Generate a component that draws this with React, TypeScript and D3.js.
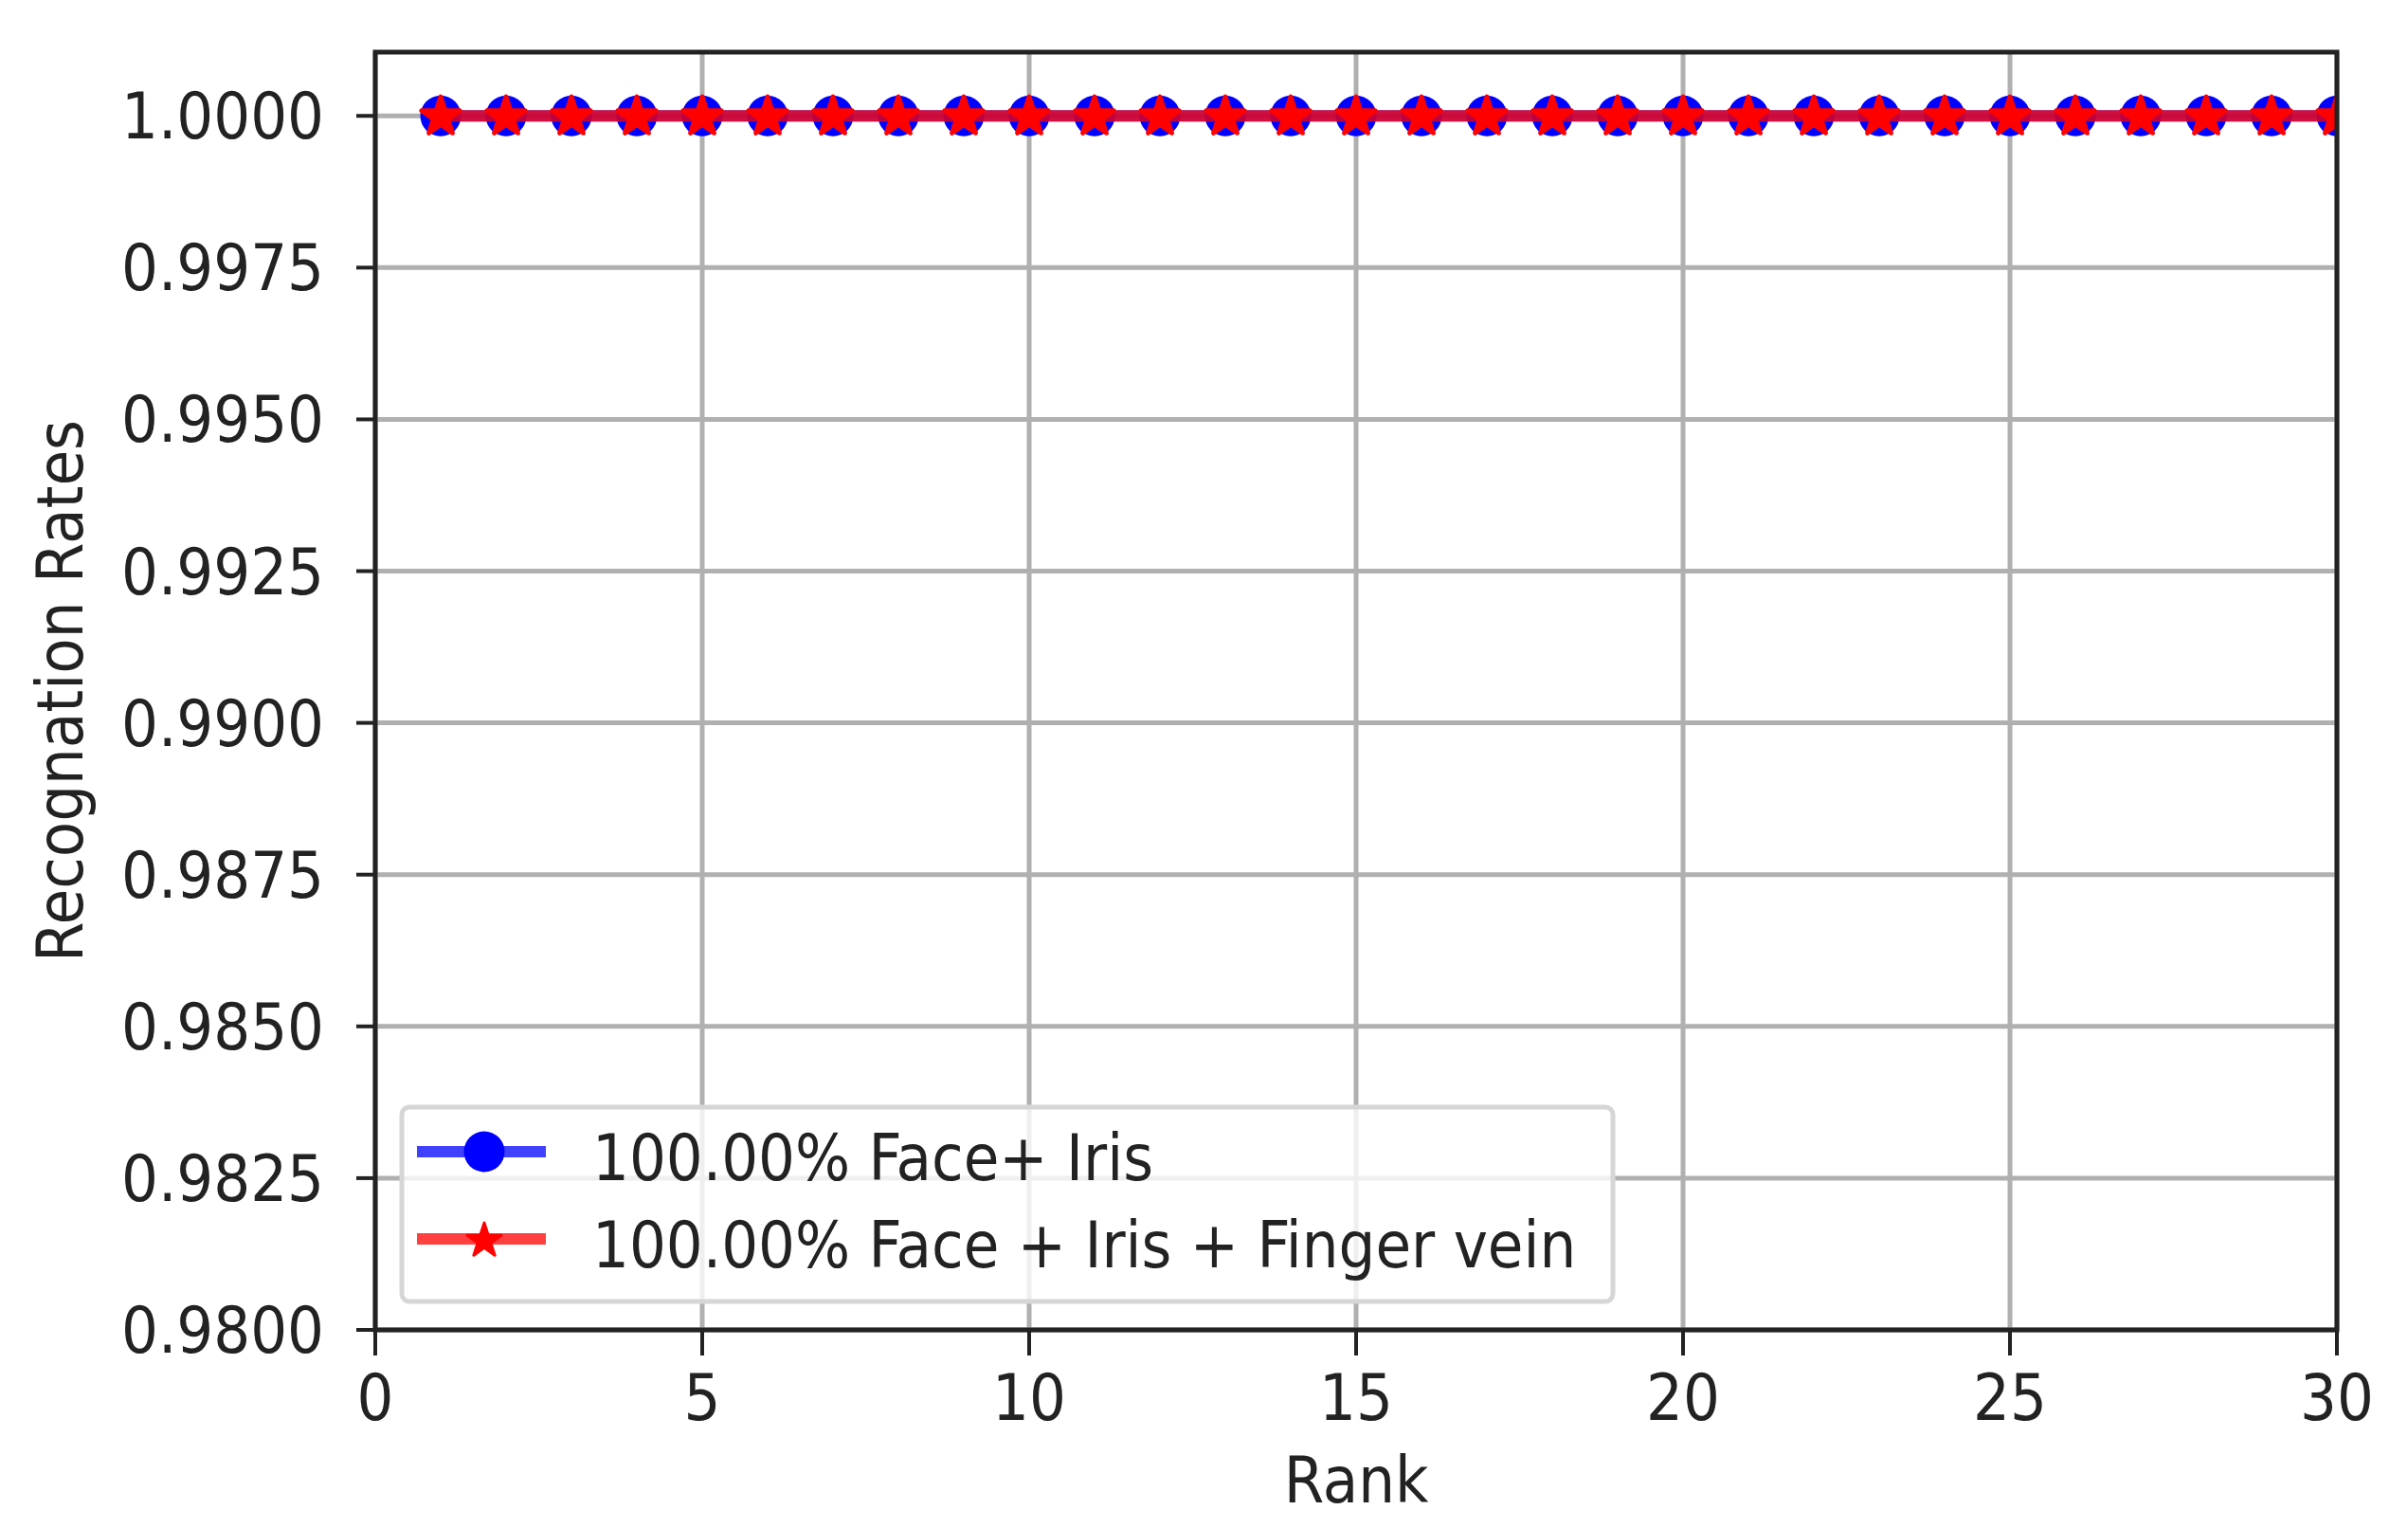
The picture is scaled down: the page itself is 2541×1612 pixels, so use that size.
import { scaleLinear, line, symbol, symbolStar, symbolCircle } from "d3";

// ranks on the x axis
const ranks = [
  1, 2, 3, 4, 5, 6, 7, 8, 9, 10, 11, 12, 13, 14, 15, 16, 17, 18, 19, 20, 21,
  22, 23, 24, 25, 26, 27, 28, 29, 30,
];
// recognition rates per rank
const faceIris = [
  1, 1, 1, 1, 1, 1, 1, 1, 1, 1, 1, 1, 1, 1, 1, 1, 1, 1, 1, 1, 1, 1, 1, 1, 1,
  1, 1, 1, 1, 1,
];
const faceIrisFinger = [
  1, 1, 1, 1, 1, 1, 1, 1, 1, 1, 1, 1, 1, 1, 1, 1, 1, 1, 1, 1, 1, 1, 1, 1, 1,
  1, 1, 1, 1, 1,
];
const seriesLabels = [
  "100.00% Face+ Iris",
  "100.00% Face + Iris + Finger vein",
];
const xTicks = [0, 5, 10, 15, 20, 25, 30];
const yTicks = [
  0.98, 0.9825, 0.985, 0.9875, 0.99, 0.9925, 0.995, 0.9975, 1.0,
];
const xDomain = [0, 30];
const yDomain = [0.98, 1.00105];

const W = 2541,
  H = 1612;
const left = 396,
  right = 2466,
  top = 55,
  bottom = 1403;

const FONT = "'DejaVu Sans Condensed', 'DejaVu Sans', sans-serif";
const FS = 68;
const BLUE = "#0000ff";
const RED = "#ff0000";
const INK = "#222222";

const App = () => {
  const x = scaleLinear(xDomain, [left, right]);
  const y = scaleLinear(yDomain, [bottom, top]);

  const path = line<number>()
    .x((d, i) => x(ranks[i]))
    .y((d) => y(d));

  // marker shapes (circle for Face+Iris, star for the three-modal fusion)
  const circle = symbol(symbolCircle, Math.PI * 21.5 * 21.5)()!;
  const star = symbol(symbolStar, 500)()!;
  const smallStar = symbol(symbolStar, 400)()!;

  // legend box
  const lg = { x: 424, y: 1168, w: 1278, h: 205 };
  const rows = [1215, 1307];

  return (
    <div style={{ position: "absolute", left: 0, top: 0 }}>
      <svg width={W} height={H} style={{ display: "block", background: "#fff" }}>
        <defs>
          <clipPath id="plot-clip">
            <rect x={left} y={top} width={right - left} height={bottom - top} />
          </clipPath>
        </defs>

        {/* grid */}
        <g stroke="#b0b0b0" strokeWidth={5}>
          {xTicks.map((t) => (
            <line key={"gx" + t} x1={x(t)} x2={x(t)} y1={top} y2={bottom} />
          ))}
          {yTicks.map((t) => (
            <line key={"gy" + t} x1={left} x2={right} y1={y(t)} y2={y(t)} />
          ))}
        </g>

        {/* series */}
        <g clipPath="url(#plot-clip)">
          <path
            d={path(faceIris)!}
            fill="none"
            stroke={BLUE}
            strokeOpacity={0.75}
            strokeWidth={12}
          />
          {faceIris.map((d, i) => (
            <path
              key={"c" + i}
              d={circle}
              transform={`translate(${x(ranks[i])},${y(d)})`}
              fill={BLUE}
            />
          ))}
          <path
            d={path(faceIrisFinger)!}
            fill="none"
            stroke={RED}
            strokeOpacity={0.75}
            strokeWidth={12}
          />
          {faceIrisFinger.map((d, i) => (
            <path
              key={"s" + i}
              d={star}
              transform={`translate(${x(ranks[i])},${y(d) + 1})`}
              fill={RED}
              stroke={RED}
              strokeWidth={5}
              strokeLinejoin="round"
            />
          ))}
        </g>

        {/* spines */}
        <rect
          x={left}
          y={top}
          width={right - left}
          height={bottom - top}
          fill="none"
          stroke={INK}
          strokeWidth={5}
        />

        {/* ticks and labels */}
        <g fontFamily={FONT} fontStretch="condensed" fontSize={FS} fill={INK}>
          {xTicks.map((t) => (
            <g key={"xt" + t}>
              <line
                x1={x(t)}
                x2={x(t)}
                y1={bottom}
                y2={bottom + 27}
                stroke={INK}
                strokeWidth={4}
              />
              <text x={x(t)} y={1498} textAnchor="middle">
                {t}
              </text>
            </g>
          ))}
          {yTicks.map((t) => (
            <g key={"yt" + t}>
              <line
                x1={left - 20}
                x2={left}
                y1={y(t)}
                y2={y(t)}
                stroke={INK}
                strokeWidth={4}
              />
              <text x={342} y={y(t) + 24} textAnchor="end">
                {t.toFixed(4)}
              </text>
            </g>
          ))}
          <text x={(left + right) / 2} y={1585} textAnchor="middle">
            Rank
          </text>
          <text
            transform={`translate(87,${(top + bottom) / 2}) rotate(-90)`}
            textAnchor="middle"
          >
            Recognation Rates
          </text>
        </g>

        {/* legend */}
        <g fontFamily={FONT} fontStretch="condensed" fontSize={FS} fill={INK}>
          <rect
            x={lg.x}
            y={lg.y}
            width={lg.w}
            height={lg.h}
            rx={8}
            fill="#ffffff"
            fillOpacity={0.8}
            stroke="#d6d6d6"
            strokeWidth={5}
          />
          <line
            x1={440}
            x2={576}
            y1={rows[0]}
            y2={rows[0]}
            stroke={BLUE}
            strokeOpacity={0.75}
            strokeWidth={12}
          />
          <path d={circle} transform={`translate(511,${rows[0]})`} fill={BLUE} />
          <text x={625} y={rows[0] + 30}>
            {seriesLabels[0]}
          </text>
          <line
            x1={440}
            x2={576}
            y1={rows[1]}
            y2={rows[1]}
            stroke={RED}
            strokeOpacity={0.75}
            strokeWidth={12}
          />
          <path
            d={smallStar}
            transform={`translate(511,${rows[1] + 2})`}
            fill={RED}
            stroke={RED}
            strokeWidth={3}
            strokeLinejoin="round"
          />
          <text x={625} y={rows[1] + 30}>
            {seriesLabels[1]}
          </text>
        </g>
      </svg>
    </div>
  );
};

export default App;
